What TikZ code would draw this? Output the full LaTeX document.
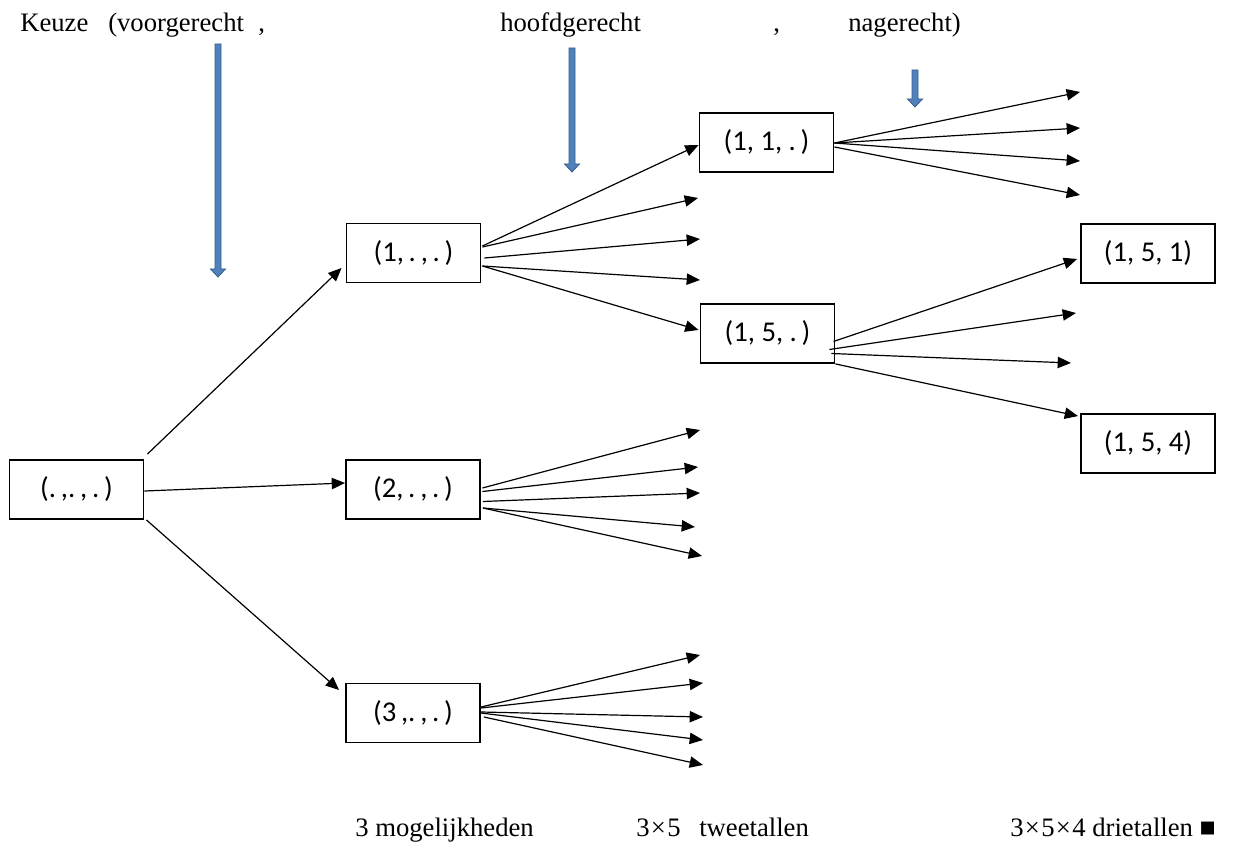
\documentclass[tikz,border=0pt]{standalone}
\usepackage{fontspec}
\setmainfont{Liberation Serif}
\newfontfamily\boxfont{Carlito}
\usetikzlibrary{arrows.meta,calc}
\definecolor{arrfill}{HTML}{4F81BD}
\definecolor{arredge}{HTML}{385D8A}
\begin{document}
\begin{tikzpicture}[x=0.75pt,y=-0.75pt,
  box/.style={draw,line width=1.4pt,minimum width=100.5pt,minimum height=44.25pt,inner sep=0pt,font=\boxfont\fontsize{21.5}{25}\selectfont},
  arr/.style={line width=0.9pt,-{Triangle[length=10pt,width=8.5pt]}},
  lbl/.style={anchor=base west,inner sep=0pt,font=\fontsize{20}{24}\selectfont},
  bluearrow/.style={fill=arrfill,draw=arredge,line width=0.6pt}]
\useasboundingbox (0,0) rectangle (1234,855);

% header
\node[lbl] (t1) at (20,32) {Keuze};
\node[lbl] (t2) at (108,32) {(voorgerecht};
\node[lbl] (t3) at (258,32) {,};
\node[lbl] (t4) at (500,32) {hoofdgerecht};
\node[lbl] (t5) at (773,32) {,};
\node[lbl] (t6) at (848,32) {nagerecht)};

% blue arrows
\path[bluearrow] (215,44) -- (221,44) -- (221,269) -- (225.5,269) -- (218,277) -- (210.5,269) -- (215,269) -- cycle;
\path[bluearrow] (569,48) -- (575,48) -- (575,164) -- (579.5,164) -- (572,172) -- (564.5,164) -- (569,164) -- cycle;
\path[bluearrow] (912,70) -- (918,70) -- (918,99) -- (922.5,99) -- (915,107) -- (907.5,99) -- (912,99) -- cycle;

% boxes
\node[box] (r)   at (76.5,489.5) {(.\,,.\,,\,.\,)};
\node[box] (n1)  at (413.5,253)  {(1,\,.\,,\,.\,)};
\node[box] (n2)  at (413,489.5)  {(2,\,.\,,\,.\,)};
\node[box] (n3)  at (413,713)    {(3\,,.\,,\,.\,)};
\node[box] (n11) at (766.5,142.5){(1, 1, .\,)};
\node[box] (n15) at (767.5,333.5){(1, 5, .\,)};
\node[box] (n151) at (1148,253.5){(1, 5, 1)};
\node[box] (n154) at (1148,443.5){(1, 5, 4)};

% free ends
\coordinate (e1b) at (698,198);
\coordinate (e1c) at (700,239);
\coordinate (e1d) at (700,280);
\coordinate (e11a) at (1080,92);
\coordinate (e11b) at (1080,128);
\coordinate (e11c) at (1080,161);
\coordinate (e11d) at (1080,195);
\coordinate (e15b) at (1076,313);
\coordinate (e15c) at (1071,363);
\coordinate (e2a) at (700,430);
\coordinate (e2b) at (698,467);
\coordinate (e2c) at (700,493);
\coordinate (e2d) at (695,527);
\coordinate (e2e) at (702,556);
\coordinate (e3a) at (700,655);
\coordinate (e3b) at (703,683);
\coordinate (e3c) at (703,717);
\coordinate (e3d) at (703,740);
\coordinate (e3e) at (703,765);

% root connectors
\draw[arr] ($(r.north east)+(3,-5)$) -- ($(n1.west)+(-4,15)$);
\draw[arr] ($(r.east)+(0,1.5)$) -- ($(n2.west)+(0,-6.5)$);
\draw[arr] ($(r.south east)+(2,0)$) -- ($(n3.west)+(-6,-23)$);

% from (1,.,.)
\draw[arr] ($(n1.east)+(1,-7)$) -- ($(n11.west)+(0,2.5)$);
\draw[arr] ($(n1.east)+(1,-6)$) -- (e1b);
\draw[arr] ($(n1.east)+(3,5)$) -- (e1c);
\draw[arr] ($(n1.east)+(1,13)$) -- (e1d);
\draw[arr] ($(n1.east)+(1,13)$) -- ($(n15.west)+(-1,-3.5)$);

% from (1,1,.)
\draw[arr] ($(n11.east)+(0,0.5)$) -- (e11a);
\draw[arr] ($(n11.east)+(0,0.5)$) -- (e11b);
\draw[arr] ($(n11.east)+(0,0.5)$) -- (e11c);
\draw[arr] ($(n11.east)+(0,4.5)$) -- (e11d);

% from (1,5,.)
\draw[arr] ($(n15.east)+(-2,8)$) -- ($(n151.west)+(-3,5.5)$);
\draw[arr] ($(n15.east)+(-6,16)$) -- (e15b);
\draw[arr] ($(n15.east)+(-4,20)$) -- (e15c);
\draw[arr] (n15.south east) -- ($(n154.north west)+(-2,3)$);

% from (2,.,.)
\draw[arr] ($(n2.east)+(1.5,-1.5)$) -- (e2a);
\draw[arr] ($(n2.east)+(1.5,2)$) -- (e2b);
\draw[arr] ($(n2.east)+(2,12)$) -- (e2c);
\draw[arr] ($(n2.east)+(2,18.5)$) -- (e2d);
\draw[arr] ($(n2.east)+(2,18.5)$) -- (e2e);

% from (3,.,.)
\draw[arr] ($(n3.east)+(0,-6)$) -- (e3a);
\draw[arr] ($(n3.east)+(0,-5)$) -- (e3b);
\draw[arr] ($(n3.east)+(0,-1)$) -- (e3c);
\draw[arr] ($(n3.east)+(0,0)$) -- (e3d);
\draw[arr] ($(n3.east)+(3,4)$) -- (e3e);

% footer
\node[lbl] (b1) at (355,836) {3 mogelijkheden};
\node[lbl] (b2) at (636,836) {3\kern1pt×\kern1pt5\hspace{0.7em}tweetallen};
\node[lbl] (b3) at (1010,836) {3\kern1pt×\kern1pt5\kern1pt×\kern1pt4 drietallen ■};
\end{tikzpicture}
\end{document}
